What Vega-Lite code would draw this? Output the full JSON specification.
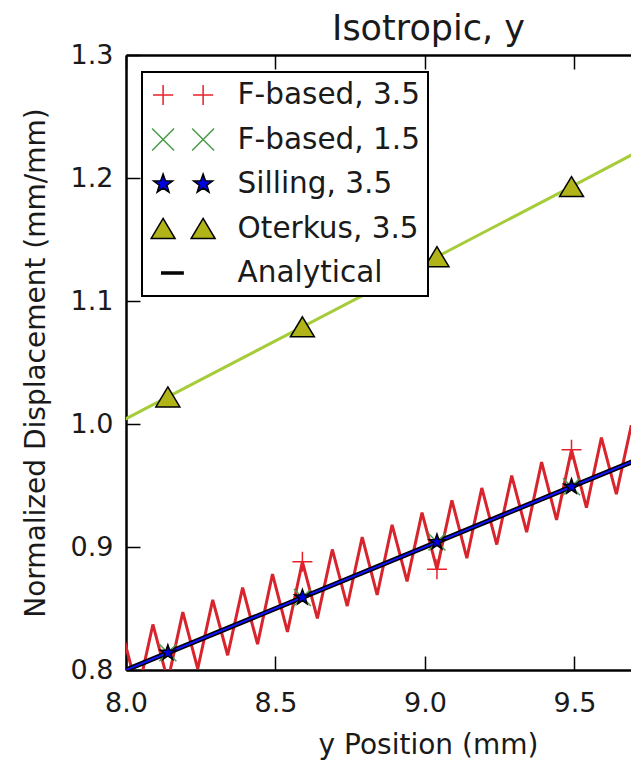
{
  "$schema": "https://vega.github.io/schema/vega-lite/v6.json",
  "width": 505,
  "height": 615,
  "autosize": {"type": "none"},
  "padding": {"left": 126, "top": 55, "right": 0, "bottom": 95},
  "background": "white",
  "config": {"view": {"stroke": null}, "font": "DejaVu Sans", "legend": {"strokeWidth": 2}},
  "title": {
    "text": "Isotropic, y",
    "font": "DejaVu Sans",
    "fontSize": 35,
    "fontWeight": "normal",
    "color": "#1a1a1a",
    "anchor": "middle",
    "frame": "group",
    "dx": 50,
    "dy": 44,
    "offset": 10,
    "baseline": "alphabetic"
  },
  "datasets": {
    "lines": [
      {"series": "F-based, 3.5", "x": 7.99, "y": 0.828},
      {"series": "F-based, 3.5", "x": 8.04, "y": 0.782},
      {"series": "F-based, 3.5", "x": 8.09, "y": 0.837},
      {"series": "F-based, 3.5", "x": 8.14, "y": 0.791},
      {"series": "F-based, 3.5", "x": 8.19, "y": 0.847},
      {"series": "F-based, 3.5", "x": 8.24, "y": 0.801},
      {"series": "F-based, 3.5", "x": 8.29, "y": 0.857},
      {"series": "F-based, 3.5", "x": 8.34, "y": 0.812},
      {"series": "F-based, 3.5", "x": 8.39, "y": 0.867},
      {"series": "F-based, 3.5", "x": 8.44, "y": 0.821},
      {"series": "F-based, 3.5", "x": 8.49, "y": 0.878},
      {"series": "F-based, 3.5", "x": 8.54, "y": 0.831},
      {"series": "F-based, 3.5", "x": 8.59, "y": 0.888},
      {"series": "F-based, 3.5", "x": 8.64, "y": 0.842},
      {"series": "F-based, 3.5", "x": 8.69, "y": 0.898},
      {"series": "F-based, 3.5", "x": 8.74, "y": 0.852},
      {"series": "F-based, 3.5", "x": 8.79, "y": 0.908},
      {"series": "F-based, 3.5", "x": 8.84, "y": 0.861},
      {"series": "F-based, 3.5", "x": 8.89, "y": 0.918},
      {"series": "F-based, 3.5", "x": 8.94, "y": 0.872},
      {"series": "F-based, 3.5", "x": 8.99, "y": 0.928},
      {"series": "F-based, 3.5", "x": 9.04, "y": 0.882},
      {"series": "F-based, 3.5", "x": 9.09, "y": 0.938},
      {"series": "F-based, 3.5", "x": 9.14, "y": 0.891},
      {"series": "F-based, 3.5", "x": 9.19, "y": 0.948},
      {"series": "F-based, 3.5", "x": 9.24, "y": 0.902},
      {"series": "F-based, 3.5", "x": 9.29, "y": 0.958},
      {"series": "F-based, 3.5", "x": 9.34, "y": 0.912},
      {"series": "F-based, 3.5", "x": 9.39, "y": 0.969},
      {"series": "F-based, 3.5", "x": 9.44, "y": 0.922},
      {"series": "F-based, 3.5", "x": 9.49, "y": 0.979},
      {"series": "F-based, 3.5", "x": 9.54, "y": 0.932},
      {"series": "F-based, 3.5", "x": 9.59, "y": 0.989},
      {"series": "F-based, 3.5", "x": 9.64, "y": 0.943},
      {"series": "F-based, 3.5", "x": 9.69, "y": 0.999},
      {"series": "F-based, 3.5", "x": 9.74, "y": 0.952},
      {"series": "F-based, 1.5", "x": 7.99, "y": 0.799},
      {"series": "F-based, 1.5", "x": 8.14, "y": 0.814},
      {"series": "F-based, 1.5", "x": 8.59, "y": 0.859},
      {"series": "F-based, 1.5", "x": 9.04, "y": 0.904},
      {"series": "F-based, 1.5", "x": 9.49, "y": 0.949},
      {"series": "F-based, 1.5", "x": 9.74, "y": 0.974},
      {"series": "Silling, 3.5", "x": 7.99, "y": 0.799},
      {"series": "Silling, 3.5", "x": 8.14, "y": 0.814},
      {"series": "Silling, 3.5", "x": 8.59, "y": 0.859},
      {"series": "Silling, 3.5", "x": 9.04, "y": 0.904},
      {"series": "Silling, 3.5", "x": 9.49, "y": 0.949},
      {"series": "Silling, 3.5", "x": 9.74, "y": 0.974},
      {"series": "Oterkus, 3.5", "x": 7.99, "y": 1.003},
      {"series": "Oterkus, 3.5", "x": 8.14, "y": 1.022},
      {"series": "Oterkus, 3.5", "x": 8.59, "y": 1.079},
      {"series": "Oterkus, 3.5", "x": 9.04, "y": 1.136},
      {"series": "Oterkus, 3.5", "x": 9.49, "y": 1.193},
      {"series": "Oterkus, 3.5", "x": 9.74, "y": 1.225},
      {"series": "Analytical", "x": 7.99, "y": 0.799},
      {"series": "Analytical", "x": 9.74, "y": 0.974}
    ],
    "markers": [
      {"series": "F-based, 3.5", "x": 8.14, "y": 0.791},
      {"series": "F-based, 3.5", "x": 8.59, "y": 0.888},
      {"series": "F-based, 3.5", "x": 9.04, "y": 0.882},
      {"series": "F-based, 3.5", "x": 9.49, "y": 0.979},
      {"series": "F-based, 1.5", "x": 8.14, "y": 0.814},
      {"series": "F-based, 1.5", "x": 8.59, "y": 0.859},
      {"series": "F-based, 1.5", "x": 9.04, "y": 0.904},
      {"series": "F-based, 1.5", "x": 9.49, "y": 0.949},
      {"series": "Silling, 3.5", "x": 8.14, "y": 0.814},
      {"series": "Silling, 3.5", "x": 8.59, "y": 0.859},
      {"series": "Silling, 3.5", "x": 9.04, "y": 0.904},
      {"series": "Silling, 3.5", "x": 9.49, "y": 0.949},
      {"series": "Oterkus, 3.5", "x": 8.14, "y": 1.022},
      {"series": "Oterkus, 3.5", "x": 8.59, "y": 1.079},
      {"series": "Oterkus, 3.5", "x": 9.04, "y": 1.136},
      {"series": "Oterkus, 3.5", "x": 9.49, "y": 1.193}
    ]
  },
  "encoding": {
    "y": {
      "field": "y",
      "type": "quantitative",
      "scale": {"domain": [0.8, 1.3], "nice": false, "zero": false},
      "axis": {
        "orient": "left",
        "values": [0.8, 0.9, 1.0, 1.1, 1.2, 1.3],
        "format": ".1f",
        "grid": false,
        "domainColor": "black",
        "domainWidth": 2.5,
        "tickColor": "black",
        "tickWidth": 1.5,
        "tickSize": -14,
        "labelPadding": 27,
        "labelFont": "DejaVu Sans",
        "labelFontSize": 27,
        "labelColor": "#1a1a1a",
        "labelAlign": "right",
        "labelBaseline": "middle",
        "labelFlush": false,
        "labelOverlap": false,
        "title": "Normalized Displacement (mm/mm)",
        "titleFont": "DejaVu Sans",
        "titleFontSize": 28,
        "titleFontWeight": "normal",
        "titleColor": "#1a1a1a",
        "titleAngle": 270,
        "titleX": -82,
        "titleY": 307.5,
        "titleAlign": "center",
        "titleBaseline": "alphabetic"
      }
    }
  },
  "resolve": {
    "axis": {"x": "independent"},
    "scale": {"shape": "independent", "fill": "independent", "stroke": "independent"}
  },
  "layer": [
    {
      "data": {"name": "lines"},
      "transform": [{"filter": "datum.series === 'F-based, 3.5'"}],
      "mark": {"type": "line", "color": "#d8242c", "strokeWidth": 3, "clip": true},
      "encoding": {
        "x": {
          "field": "x",
          "type": "quantitative",
          "scale": {"domain": [8, 9.689], "nice": false, "zero": false},
          "axis": {
            "orient": "bottom",
            "values": [8, 8.5, 9, 9.5],
            "format": ".1f",
            "grid": false,
            "domainColor": "black",
            "domainWidth": 2.5,
            "tickColor": "black",
            "tickWidth": 1.5,
            "tickSize": -14,
            "labelPadding": 55,
            "labelFont": "DejaVu Sans",
            "labelFontSize": 27,
            "labelColor": "#1a1a1a",
            "labelBaseline": "alphabetic",
            "labelFlush": false,
            "labelOverlap": false,
            "title": "y Position (mm)",
            "titleFont": "DejaVu Sans",
            "titleFontSize": 28,
            "titleFontWeight": "normal",
            "titleColor": "#1a1a1a",
            "titleX": 302,
            "titleY": 83,
            "titleAlign": "center",
            "titleBaseline": "alphabetic"
          }
        }
      }
    },
    {
      "data": {"name": "lines"},
      "transform": [{"filter": "datum.series === 'F-based, 1.5'"}],
      "mark": {"type": "line", "color": "#3a8a3a", "strokeWidth": 2, "clip": true},
      "encoding": {
        "x": {"field": "x", "type": "quantitative", "scale": {"domain": [8, 9.689], "nice": false, "zero": false}, "axis": null}
      }
    },
    {
      "data": {"name": "lines"},
      "transform": [{"filter": "datum.series === 'Analytical'"}],
      "mark": {"type": "line", "color": "#000000", "strokeWidth": 5, "clip": true},
      "encoding": {
        "x": {
          "field": "x",
          "type": "quantitative",
          "scale": {"domain": [8, 9.689], "nice": false, "zero": false},
          "axis": {
            "orient": "top",
            "values": [8, 8.5, 9, 9.5],
            "labels": false,
            "title": null,
            "grid": false,
            "domainColor": "black",
            "domainWidth": 2.5,
            "tickColor": "black",
            "tickWidth": 1.5,
            "tickSize": -14
          }
        }
      }
    },
    {
      "data": {"name": "lines"},
      "transform": [{"filter": "datum.series === 'Silling, 3.5'"}],
      "mark": {"type": "line", "color": "#1515ff", "strokeWidth": 2, "clip": true},
      "encoding": {
        "x": {"field": "x", "type": "quantitative", "scale": {"domain": [8, 9.689], "nice": false, "zero": false}, "axis": null}
      }
    },
    {
      "data": {"name": "lines"},
      "transform": [{"filter": "datum.series === 'Oterkus, 3.5'"}],
      "mark": {"type": "line", "color": "#a6cc3a", "strokeWidth": 3, "clip": true},
      "encoding": {
        "x": {"field": "x", "type": "quantitative", "scale": {"domain": [8, 9.689], "nice": false, "zero": false}, "axis": null}
      }
    },
    {
      "data": {"name": "markers"},
      "mark": {"type": "point", "filled": true, "opacity": 1, "size": 400, "strokeWidth": 1.5, "clip": true},
      "encoding": {
        "x": {"field": "x", "type": "quantitative", "scale": {"domain": [8, 9.689], "nice": false, "zero": false}, "axis": null},
        "shape": {
          "field": "series",
          "type": "nominal",
          "scale": {
            "domain": ["F-based, 3.5", "F-based, 1.5", "Silling, 3.5", "Oterkus, 3.5"],
            "range": [
              "M-1,0H1M0,-1V1",
              "M-0.85,-0.85L0.85,0.85M-0.85,0.85L0.85,-0.85",
              "M0,-0.8L0.188,-0.259L0.761,-0.247L0.304,0.099L0.47,0.647L0,0.32L-0.47,0.647L-0.304,0.099L-0.761,-0.247L-0.188,-0.259Z",
              "M0,-1L1.2,1L-1.2,1Z"
            ]
          },
          "legend": null
        },
        "fill": {
          "field": "series",
          "type": "nominal",
          "scale": {
            "domain": ["F-based, 3.5", "F-based, 1.5", "Silling, 3.5", "Oterkus, 3.5"],
            "range": ["#e8202a", "#4a9a4a", "#0000e0", "#b0b418"]
          },
          "legend": null
        },
        "stroke": {
          "field": "series",
          "type": "nominal",
          "scale": {
            "domain": ["F-based, 3.5", "F-based, 1.5", "Silling, 3.5", "Oterkus, 3.5"],
            "range": ["#e8202a", "#4a9a4a", "black", "black"]
          },
          "legend": null
        }
      }
    },
    {
      "data": {"name": "markers"},
      "mark": {"type": "point", "filled": true, "opacity": 0, "size": 400, "strokeWidth": 1.5},
      "encoding": {
        "x": {"field": "x", "type": "quantitative", "scale": {"domain": [8, 9.689], "nice": false, "zero": false}, "axis": null},
        "shape": {
          "field": "series",
          "type": "nominal",
          "scale": {
            "domain": ["F-based, 3.5", "F-based, 1.5", "Silling, 3.5", "Oterkus, 3.5", "Analytical"],
            "range": [
              "M-0.986,0H-0.326M-0.656,-0.33V0.33M0.326,0H0.986M0.656,-0.33V0.33",
              "M-1.016,-0.36L-0.296,0.36M-1.016,0.36L-0.296,-0.36M0.296,-0.36L1.016,0.36M0.296,0.36L1.016,-0.36",
              "M-0.656,-0.33L-0.578,-0.107L-0.342,-0.102L-0.531,0.041L-0.462,0.267L-0.656,0.132L-0.85,0.267L-0.781,0.041L-0.97,-0.102L-0.734,-0.107ZM0.656,-0.33L0.734,-0.107L0.97,-0.102L0.781,0.041L0.85,0.267L0.656,0.132L0.462,0.267L0.531,0.041L0.342,-0.102L0.578,-0.107Z",
              "M-0.656,-0.33L-0.263,0.33L-1.049,0.33ZM0.656,-0.33L1.049,0.33L0.263,0.33Z",
              "M-0.7,-0.03H0V0.03H-0.7Z"
            ]
          },
          "legend": {
            "title": null,
            "orient": "none",
            "legendX": 16,
            "legendY": 17,
            "fillColor": "white",
            "strokeColor": "black",
            "padding": 8,
            "clipHeight": 30,
            "rowPadding": 14.5,
            "symbolSize": 3721,
            "symbolOffset": 1.6,
            "symbolStrokeWidth": 1.5,
            "symbolOpacity": 1,
            "labelOffset": 23,
            "labelFont": "DejaVu Sans",
            "labelFontSize": 29.5,
            "labelColor": "#1a1a1a",
            "labelBaseline": "middle",
            "labelLimit": 0
          }
        },
        "fill": {
          "field": "series",
          "type": "nominal",
          "scale": {
            "domain": ["F-based, 3.5", "F-based, 1.5", "Silling, 3.5", "Oterkus, 3.5", "Analytical"],
            "range": ["#e8202a", "#4a9a4a", "#0000e0", "#b0b418", "black"]
          }
        },
        "stroke": {
          "field": "series",
          "type": "nominal",
          "scale": {
            "domain": ["F-based, 3.5", "F-based, 1.5", "Silling, 3.5", "Oterkus, 3.5", "Analytical"],
            "range": ["#e8202a", "#4a9a4a", "black", "black", "black"]
          }
        }
      }
    }
  ]
}
